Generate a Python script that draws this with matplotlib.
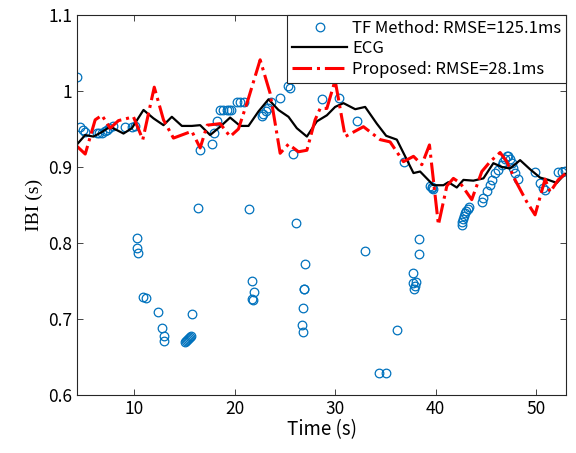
import numpy as np
import matplotlib
matplotlib.use("Agg")
import matplotlib.pyplot as plt

# ECG reference IBI
ecg_t = [4.33, 5.13, 5.95, 6.79, 7.61, 8.94, 9.77, 10.93, 11.92, 12.92, 13.75, 14.75,
         15.74, 16.57, 17.56, 18.56, 19.55, 20.55, 21.38, 22.37, 23.37, 24.36, 25.36,
         26.19, 27.19, 28.18, 29.18, 30.0, 30.83, 32.0, 32.99, 34.15, 35.08, 36.14,
         36.97, 37.8, 38.46, 39.78, 40.78, 41.27, 42.11, 42.77, 43.76, 44.76, 45.75,
         46.59, 47.41, 48.41, 49.4, 50.4, 51.23, 52.06, 52.89]
ecg_ibi = [0.930, 0.942, 0.940, 0.946, 0.953, 0.944, 0.951, 0.975, 0.964, 0.955, 0.966,
           0.954, 0.954, 0.955, 0.942, 0.953, 0.965, 0.954, 0.954, 0.973, 0.989, 0.975,
           0.966, 0.951, 0.940, 0.960, 0.968, 0.979, 0.984, 0.976, 0.979, 0.957, 0.941,
           0.936, 0.914, 0.892, 0.894, 0.876, 0.876, 0.880, 0.873, 0.883, 0.882, 0.885,
           0.905, 0.900, 0.898, 0.909, 0.897, 0.886, 0.883, 0.879, 0.891]

# proposed method
prop_t = [4.33, 5.13, 6.12, 6.79, 7.61, 8.44, 9.93, 10.86, 12.0, 12.92, 13.91, 15.74,
          16.57, 17.27, 18.56, 19.55, 20.38, 21.37, 22.54, 23.53, 24.53, 25.36, 26.35,
          27.19, 28.01, 28.51, 29.18, 30.0, 31.0, 32.82, 34.48, 35.47, 36.8, 37.8,
          38.63, 39.39, 40.28, 41.12, 41.77, 42.44, 43.6, 44.6, 45.43, 46.42, 47.09,
          47.91, 49.08, 49.9, 50.9, 51.4, 52.2, 52.9]
prop_ibi = [0.927, 0.917, 0.962, 0.968, 0.951, 0.961, 0.966, 0.936, 1.005, 0.962, 0.938,
            0.947, 0.925, 0.955, 0.957, 0.940, 0.950, 0.990, 1.041, 0.997, 0.918, 0.930,
            0.920, 0.922, 0.962, 0.977, 0.977, 1.014, 0.940, 0.953, 0.936, 0.933, 0.907,
            0.914, 0.903, 0.929, 0.824, 0.875, 0.885, 0.879, 0.857, 0.894, 0.907, 0.919,
            0.907, 0.883, 0.854, 0.837, 0.884, 0.867, 0.883, 0.891]

# TF method estimates
tf_t = [4.30, 4.63, 4.93, 5.13, 6.29, 6.55, 6.79, 7.05, 7.29, 7.54, 7.88, 9.11, 9.77, 10.05,
        16.57, 17.76, 17.91, 18.26, 18.56, 18.89, 19.23, 19.46, 19.65, 20.22, 20.55, 20.95,
        22.71, 22.87, 23.11, 23.37, 23.63, 24.53, 25.36, 25.52, 25.79, 28.68, 30.43, 32.16,
        36.87, 39.46, 39.6, 39.75, 39.65,
        42.6, 42.67, 42.74, 42.84, 42.94, 43.04, 43.19, 43.37,
        44.6, 44.76, 45.1, 45.42, 45.6, 45.92, 46.25, 46.59, 46.75, 46.92, 47.09, 47.25,
        47.42, 47.59, 47.75, 47.92, 48.25, 49.9, 50.4, 50.73, 50.9, 52.22, 52.56, 52.89,
        10.27, 10.27, 10.37, 10.87, 11.17, 12.42, 12.82, 12.99, 13.02,
        15.08, 15.18, 15.28, 15.37, 15.47, 15.57, 15.64, 15.77, 16.4,
        21.41, 21.77, 21.97, 21.81, 21.71, 26.12, 27.05, 26.92, 26.95, 26.85, 26.72, 26.85,
        32.99, 36.14, 34.41, 35.08, 37.73, 37.79, 38.06, 37.96, 37.89, 38.39, 38.39]
tf_ibi = [1.018, 0.953, 0.949, 0.946, 0.945, 0.945, 0.945, 0.947, 0.949, 0.951, 0.954,
          0.953, 0.952, 0.954,
          0.922, 0.930, 0.945, 0.961, 0.975, 0.975, 0.975, 0.975, 0.975, 0.986, 0.986, 0.986,
          0.967, 0.970, 0.973, 0.977, 0.986, 0.991, 1.006, 1.004, 0.917, 0.990, 0.991, 0.961,
          0.907, 0.875, 0.872, 0.871, 0.874,
          0.824, 0.828, 0.832, 0.836, 0.839, 0.842, 0.845, 0.847,
          0.854, 0.859, 0.868, 0.876, 0.883, 0.892, 0.896, 0.903, 0.907, 0.911, 0.914, 0.914,
          0.911, 0.905, 0.898, 0.892, 0.884, 0.894, 0.879, 0.872, 0.870, 0.893, 0.894, 0.895,
          0.807, 0.793, 0.787, 0.729, 0.727, 0.709, 0.688, 0.677, 0.671,
          0.670, 0.671, 0.672, 0.674, 0.675, 0.676, 0.678, 0.707, 0.846,
          0.845, 0.750, 0.735, 0.725, 0.726, 0.826, 0.772, 0.739, 0.740, 0.714, 0.692, 0.683,
          0.789, 0.686, 0.629, 0.629, 0.761, 0.747, 0.749, 0.743, 0.740, 0.805, 0.786]

plt.rcParams["font.family"] = ["Noto Sans CJK JP", "DejaVu Sans"]
plt.rcParams["axes.edgecolor"] = "#262626"

fig = plt.figure(figsize=(5.76, 4.53), dpi=100)
ax = fig.add_axes([0.134, 0.128, 0.849, 0.839])

ax.plot(tf_t, tf_ibi, "o", mfc="none", mec="#0072BD", ms=6.2, mew=0.9,
        label="TF Method: RMSE=125.1ms")
ax.plot(ecg_t, ecg_ibi, "-", color="black", lw=1.6, label="ECG")
ax.plot(prop_t, prop_ibi, "-.", color="red", lw=2.2, label="Proposed: RMSE=28.1ms")

ax.set_xlim(4.33, 53)
ax.set_ylim(0.6, 1.1)
ax.set_xticks([10, 20, 30, 40, 50])
ax.set_yticks([0.6, 0.7, 0.8, 0.9, 1.0, 1.1])
ax.set_yticklabels(["0.6", "0.7", "0.8", "0.9", "1", "1.1"])
ax.tick_params(direction="in", top=True, right=True, labelsize=12.5, colors="#262626",
               length=4, width=0.6, labelcolor="black")
for s in ax.spines.values():
    s.set_linewidth(0.8)

ax.set_xlabel("Time (s)", fontsize=13.5, labelpad=1)
ax.set_ylabel("IBI (s)", fontsize=14, family=["Liberation Serif", "DejaVu Serif"], labelpad=4)

leg = ax.legend(loc="upper right", fontsize=12, borderaxespad=0, fancybox=False,
                framealpha=1, edgecolor="#262626", handlelength=3.3, handletextpad=0.3,
                labelspacing=0.2, borderpad=0.3)
leg.get_frame().set_linewidth(0.8)

fig.savefig("out.png", dpi=100)
